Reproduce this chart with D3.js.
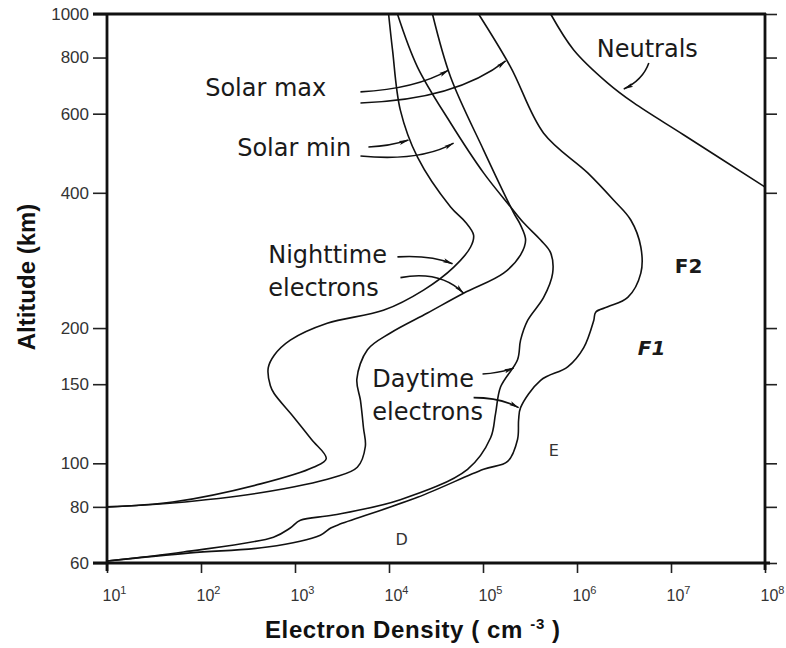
<!DOCTYPE html>
<html><head><meta charset="utf-8">
<script src="https://cdn.jsdelivr.net/npm/d3@7"></script>
<style>
body{margin:0;background:#fff}
svg{display:block}
.lbl{font-family:"DejaVu Sans",sans-serif;font-size:24px;fill:#1a1a1a}
.tick text{font-family:"Liberation Sans",Arial,sans-serif;fill:#333}
</style>
</head><body>
<svg id="c" width="786" height="648"></svg>
<script>
// ---- data ----
const xTickExps = [1,2,3,4,5,6,7,8];
const yTicks = [60,80,100,150,200,400,600,800,1000];

// [electron density (cm^-3), altitude (km)]
const nightSolarMin = [[10,80],[50,82],[430,90],[1570,98],[2150,102.5],[1500,113],[960,127],[600,143],[546,149],[519,163],[601,174],[891,188],[2200,205],[8700,219],[23300,243],[48600,273],[73800,303],[79400,322],[65200,344],[45200,372],[20100,480],[13200,611],[10900,832],[9900,1000]];
const nightSolarMax = [[10,80],[50,81.6],[430,86],[2560,93],[4600,98],[5600,109],[5350,120],[4970,138],[4550,154],[5900,179],[10350,195],[25650,216],[62100,239],[165600,265],[251000,291],[284000,314],[251000,339],[212000,361],[101400,498],[45200,724],[29000,1000]];
const daySolarMin = [[10,60.6],[65,63.5],[590,68.5],[890,71.8],[1140,74.7],[2560,76.7],[13200,83],[68500,97],[120500,114],[136000,129],[154000,148],[233000,170],[251000,188],[298500,208],[441600,234],[550800,265],[524800,294],[410200,314],[270400,343],[196800,372],[101400,443],[45200,572],[20100,762],[12300,1000]];
const daySolarMax = [[10,60.6],[77,63.2],[507,65.1],[1860,69.2],[2400,71.8],[2900,73],[20100,84],[101400,97],[182800,101],[233000,113],[239300,125],[251000,133],[410000,153],[796000,164],[1180000,181],[1507000,208],[1581000,217],[2123000,223],[3467000,234],[4775000,265],[4775000,303],[3733000,348],[2460000,385],[1300000,443],[441600,543],[196800,762],[89700,1000]];
const neutrals = [[524800,1000],[922500,832],[2123000,702],[4018000,634],[1.37e7,538],[1e8,412]];

// annotation text: [text, density, altitude]
const labelTexts = [["Solar max",110.7,657],["Solar min",242.7,483],["Nighttime",519,279],["electrons",519,236],["Daytime",6650,148],["electrons",6650,125],["Neutrals",1.622e6,802]];
const regionLabels = [["F2",1.099e7,265,"normal"],["F1",4.436e6,174,"oblique"]];
const smallLabels = [["E",5.0e5,104],["D",11720,65.8]];
// annotation arrows: start, control, end  ([density, altitude])
const arrows = [
  [[4970,671],[19140,681],[42950,750]],
  [[4970,634],[51050,643],[174200,786]],
  [[6040,506],[10350,508],[16100,524]],
  [[4970,483],[21630,469],[48640,516]],
  [[12300,288],[27610,291],[47420,278]],
  [[13240,259],[35320,269],[62090,239]],
  [[98850,158],[153800,159],[211800,163]],
  [[79430,140],[153800,140],[239300,133]],
  [[5.808e6,778],[5.012e6,713],[3.148e6,681]]
];

// ---- chart ----
const L=107, R=765, T=14, B=563;
const svg = d3.select("#c");
const x = d3.scaleLog().domain([10,1e8]).range([L,R]);
const y = d3.scaleLog().domain([60,1000]).range([B,T]);

svg.append("defs").append("marker").attr("id","ah")
  .attr("viewBox","0 0 10 6").attr("refX",9.5).attr("refY",3)
  .attr("markerWidth",10).attr("markerHeight",6).attr("markerUnits","userSpaceOnUse")
  .attr("orient","auto")
  .append("path").attr("d","M0,0.9 L10,3 L0,5.1 L2,3 Z").attr("fill","#111");

// axes
const gl = svg.append("g").attr("transform",`translate(${L},0)`)
  .call(d3.axisLeft(y).tickValues(yTicks).tickSize(14).tickPadding(4).tickFormat(d3.format("d")));
gl.select(".domain").remove();
gl.selectAll(".tick line").attr("stroke","#222").attr("stroke-width",1.6);
gl.selectAll(".tick text").attr("font-size",17);

const gr = svg.append("g").attr("transform",`translate(${R},0)`)
  .call(d3.axisRight(y).tickValues(yTicks).tickSize(12).tickFormat(""));
gr.select(".domain").remove();
gr.selectAll(".tick line").attr("stroke","#222").attr("stroke-width",1.6);

const gb = svg.append("g").attr("transform",`translate(0,${B})`)
  .call(d3.axisBottom(x).tickValues(xTickExps.map(e=>Math.pow(10,e))).tickSize(10).tickFormat(""));
gb.select(".domain").remove();
gb.selectAll(".tick line").attr("stroke","#222").attr("stroke-width",1.6);
gb.selectAll(".tick").each(function(d,i){
  const t = d3.select(this).append("text").attr("x",-5).attr("y",38)
    .attr("text-anchor","start").attr("font-size",16);
  t.append("tspan").text("10");
  t.append("tspan").attr("dy",-7).attr("font-size",11).text(xTickExps[i]);
});

// frame
const frame = svg.append("g").attr("stroke","#111").attr("stroke-width",2.8).attr("fill","none");
frame.append("line").attr("x1",93).attr("x2",R+1).attr("y1",T).attr("y2",T);
frame.append("line").attr("x1",93).attr("x2",R+5).attr("y1",B).attr("y2",B);
frame.append("line").attr("x1",L).attr("x2",L).attr("y1",T).attr("y2",B+8);
frame.append("line").attr("x1",R).attr("x2",R).attr("y1",T-1).attr("y2",B+7);

// curves
const line = d3.line().x(d=>x(d[0])).y(d=>y(d[1])).curve(d3.curveCatmullRom.alpha(0.5));
const g = svg.append("g").attr("fill","none").attr("stroke","#111").attr("stroke-width",1.6);
[nightSolarMin,nightSolarMax,daySolarMin,daySolarMax,neutrals].forEach(s=>{
  g.append("path").attr("d",line(s));
});

// arrows
arrows.forEach(a=>{
  const p=a.map(d=>[x(d[0]),y(d[1])]);
  svg.append("path").attr("d",`M${p[0]}Q${p[1]} ${p[2]}`)
    .attr("fill","none").attr("stroke","#111").attr("stroke-width",1.6)
    .attr("marker-end","url(#ah)");
});

// labels
labelTexts.forEach(l=>{
  svg.append("text").attr("class","lbl").attr("x",x(l[1])).attr("y",y(l[2])).text(l[0]);
});
regionLabels.forEach(l=>{
  svg.append("text").attr("x",x(l[1])).attr("y",y(l[2]))
    .attr("font-family","DejaVu Sans").attr("font-weight","bold").attr("font-style",l[3])
    .attr("font-size",20).attr("fill","#1a1a1a").text(l[0]);
});
smallLabels.forEach(l=>{
  svg.append("text").attr("x",x(l[1])).attr("y",y(l[2]))
    .attr("font-family","DejaVu Sans").attr("font-size",16).attr("fill","#333").text(l[0]);
});

// axis titles
svg.append("text").attr("transform","translate(35,277) rotate(-90)")
  .attr("text-anchor","middle").attr("font-family","Liberation Sans, Arial").attr("font-weight","bold")
  .attr("font-size",24).attr("fill","#111").text("Altitude (km)");
const xt = svg.append("text").attr("x",265).attr("y",638)
  .attr("font-family","Liberation Sans, Arial").attr("font-weight","bold")
  .attr("font-size",24).attr("letter-spacing",0.6).attr("fill","#111");
xt.append("tspan").text("Electron Density ( cm ");
xt.append("tspan").attr("dy",-9).attr("font-size",15).text("-3");
xt.append("tspan").attr("dy",9).text(" )");
</script>
</body></html>
